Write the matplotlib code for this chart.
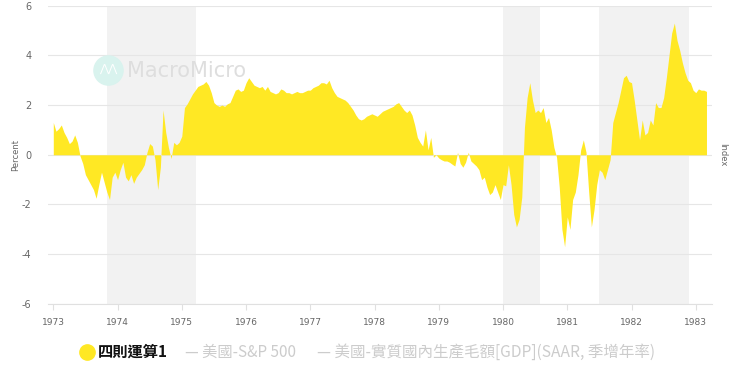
import matplotlib
matplotlib.use("Agg")
import matplotlib.pyplot as plt
import numpy as np

plt.rcParams['font.family'] = ['Noto Sans CJK TC', 'DejaVu Sans']
plt.rcParams['axes.unicode_minus'] = False

# semi-monthly readings of the yellow series, starting Jan 1973
v1973 = [1.3, 0.95, 1.05, 1.2, 0.9, 0.7, 0.45, 0.55, 0.8, 0.5, -0.05, -0.35,
         -0.8, -1.0, -1.2, -1.4, -1.75, -1.2, -0.7, -1.1, -1.5, -1.8, -0.9, -0.7]
v1974 = [-1.0, -0.6, -0.3, -0.9, -1.05, -0.8, -1.15, -0.9, -0.75, -0.6, -0.4, 0.1,
         0.45, 0.35, -0.2, -1.4, -0.5, 1.8, 0.9, 0.3, -0.15, 0.5, 0.4, 0.5]
v1975 = [0.75, 1.9, 2.05, 2.25, 2.45, 2.6, 2.75, 2.8, 2.85, 2.95, 2.8, 2.5,
         2.1, 2.0, 1.95, 2.0, 1.95, 2.05, 2.1, 2.35, 2.6, 2.65, 2.55, 2.6]
v1976 = [2.9, 3.1, 2.95, 2.8, 2.75, 2.7, 2.75, 2.6, 2.75, 2.55, 2.5, 2.45,
         2.5, 2.65, 2.6, 2.5, 2.5, 2.45, 2.5, 2.55, 2.5, 2.5, 2.55, 2.6]
v1977 = [2.6, 2.7, 2.75, 2.8, 2.9, 2.9, 2.85, 3.0, 2.7, 2.5, 2.35, 2.3,
         2.25, 2.2, 2.1, 1.95, 1.8, 1.6, 1.45, 1.4, 1.45, 1.55, 1.6, 1.65]
v1978 = [1.6, 1.55, 1.65, 1.75, 1.8, 1.85, 1.9, 1.95, 2.05, 2.1, 1.95, 1.8,
         1.7, 1.8, 1.6, 1.2, 0.7, 0.5, 0.35, 1.0, 0.2, 0.7, -0.1, 0.0]
v1979 = [-0.13, -0.2, -0.25, -0.25, -0.3, -0.38, -0.45, 0.1, -0.35, -0.5, -0.3, 0.1,
         -0.25, -0.35, -0.45, -0.6, -1.0, -0.9, -1.3, -1.6, -1.5, -1.2, -1.5, -1.8]
v1980 = [-1.2, -1.25, -0.4, -1.2, -2.4, -2.9, -2.6, -1.7, 1.1, 2.3, 2.9, 2.2,
         1.7, 1.8, 1.7, 1.9, 1.3, 1.5, 1.0, 0.3, -0.1, -1.3, -3.0, -3.7]
v1981 = [-2.5, -3.0, -1.8, -1.5, -0.8, 0.2, 0.6, 0.1, -1.5, -2.9, -2.2, -1.2,
         -0.6, -0.7, -1.0, -0.6, -0.2, 1.3, 1.7, 2.1, 2.6, 3.1, 3.2, 2.95]
v1982 = [2.9, 2.2, 1.4, 0.6, 1.4, 0.8, 0.9, 1.4, 1.2, 2.1, 1.9, 1.9,
         2.3, 3.1, 4.0, 4.9, 5.3, 4.6, 4.2, 3.7, 3.3, 3.0, 2.9, 2.6]
v1983 = [2.5, 2.65, 2.6, 2.6, 2.55]

values = np.array(v1973 + v1974 + v1975 + v1976 + v1977 + v1978 +
                  v1979 + v1980 + v1981 + v1982 + v1983)
years = 1973 + np.arange(len(values)) / 24.0

rec_start = [1973.83, 1980.0, 1981.5]
rec_end = [1975.22, 1980.57, 1982.89]

year_ticks = list(range(1973, 1984))
y_ticks = [-6, -4, -2, 0, 2, 4, 6]

legend_main = '四則運算1'
legend_off = ['— 美國-S&P 500', '— 美國-實質國內生產毛額[GDP](SAAR, 季增年率)']

yellow = '#FFE824'

fig = plt.figure(figsize=(7.4, 3.78), dpi=100)
ax = fig.add_axes([0.0649, 0.196, 0.8973, 0.789])

for a, b in zip(rec_start, rec_end):
    ax.axvspan(a, b, color='#f2f2f2', lw=0, zorder=0)

ax.fill_between(years, values, 0, color=yellow, lw=0, zorder=2)

ax.set_xlim(1972.918, 1983.253)
ax.set_ylim(-6, 6)
ax.set_yticks(y_ticks)
ax.set_xticks(year_ticks)
ax.set_xticklabels([str(y) for y in year_ticks])
ax.yaxis.grid(True, color='#e6e6e6', lw=0.8, zorder=1)
ax.set_axisbelow(True)
for s in ['top', 'right', 'left']:
    ax.spines[s].set_visible(False)
ax.spines['bottom'].set_color('#e0e0e0')
ax.tick_params(axis='y', length=0, labelsize=7, labelcolor='#666666', pad=12,
               labelfontfamily='DejaVu Sans')
ax.tick_params(axis='x', length=4, color='#e0e0e0', labelsize=6.5, labelcolor='#666666',
               pad=6, labelfontfamily='DejaVu Sans')

fig.text(0.021, 0.59, 'Percent', rotation=90, ha='center', va='center',
         fontsize=6, color='#666666', family='DejaVu Sans')
fig.text(0.976, 0.59, 'Index', rotation=270, ha='center', va='center',
         fontsize=6, color='#666666', family='DejaVu Sans')

# watermark
fig.add_artist(plt.Line2D([108 / 740], [1 - 70 / 378], marker='o', markersize=21,
                          color='#d9f3ee', transform=fig.transFigure, zorder=3))
fig.text(108 / 740, 1 - 70 / 378, '⋀⋀', ha='center', va='center', fontsize=8,
         color='white', family='DejaVu Sans', zorder=4)
fig.text(127 / 740, 1 - 71 / 378, 'MacroMicro', ha='left', va='center', fontsize=15,
         color='#dedede', family='DejaVu Sans', zorder=4)

# legend
fig.add_artist(plt.Line2D([87 / 740], [1 - 352 / 378], marker='o', markersize=11,
                          color=yellow, transform=fig.transFigure))
fig.text(98 / 740, 1 - 352 / 378, legend_main, ha='left', va='center', fontsize=11,
         fontweight='bold', color='#111111')
fig.text(185 / 740, 1 - 352 / 378, legend_off[0], ha='left', va='center', fontsize=11,
         color='#cccccc')
fig.text(317 / 740, 1 - 352 / 378, legend_off[1], ha='left', va='center', fontsize=11.2,
         color='#cccccc')

fig.savefig('out.png', dpi=100)
